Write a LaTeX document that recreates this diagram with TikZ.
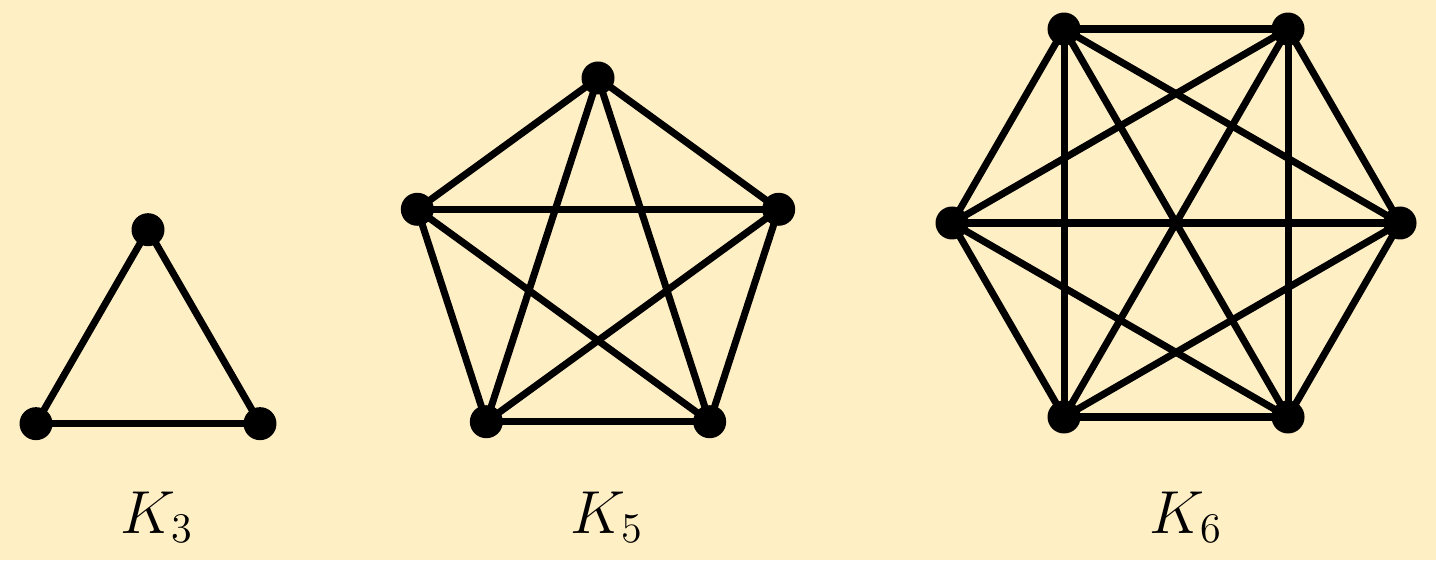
\documentclass[tikz,border=0pt]{standalone}
\usepackage{amsmath, amssymb}
\usepackage{tikz}
\usetikzlibrary{positioning}
\usepackage{xcolor}
\definecolor{paper}{RGB}{255,239,196}

\begin{document}
\begin{tikzpicture}[
    vertex/.style={circle, fill=black, inner sep=0pt, minimum size=0.33cm}, % black dots
    link/.style={line width=2pt, black},
    gname/.style={anchor=base, font=\LARGE}
]

% Background
\fill[paper] (0,0) rectangle (14.36,5.6);
\useasboundingbox (0,0) rectangle (14.36,5.6);

% K3: triangle
\begin{scope}[shift={(1.48,2.01)}]
    \foreach \i in {1,...,3}
        \coordinate (t\i) at ({90+120*(\i-1)}:1.293);
    \foreach \i/\j in {1/2, 2/3, 3/1}
        \draw[link] (t\i) -- (t\j);
    \foreach \i in {1,...,3}
        \node[vertex] (tv\i) at (t\i) {};
\end{scope}

% K5: pentagon with star
\begin{scope}[shift={(5.98,2.92)}]
    \foreach \i in {1,...,5}
        \coordinate (p\i) at ({90+72*(\i-1)}:1.9);
    \foreach \i in {1,...,4} {
        \pgfmathtruncatemacro\nexti{\i+1}
        \foreach \j in {\nexti,...,5}
            \draw[link] (p\i) -- (p\j);
    }
    \foreach \i in {1,...,5}
        \node[vertex] (pv\i) at (p\i) {};
\end{scope}

% K6: hexagon, all diagonals
\begin{scope}[shift={(11.76,3.37)}]
    \foreach \i in {1,...,6}
        \coordinate (h\i) at ({60*(\i-1)}:2.24);
    \foreach \i in {1,...,5} {
        \pgfmathtruncatemacro\nexti{\i+1}
        \foreach \j in {\nexti,...,6}
            \draw[link] (h\i) -- (h\j);
    }
    \foreach \i in {1,...,6}
        \node[vertex] (hv\i) at (h\i) {};
\end{scope}

% Names below the graphs
\node[gname] (name3) at (1.57,0.27) {$K_3$};
\node[gname] (name5) at (6.07,0.27) {$K_5$};
\node[gname] (name6) at (11.86,0.27) {$K_6$};

\end{tikzpicture}
\end{document}
